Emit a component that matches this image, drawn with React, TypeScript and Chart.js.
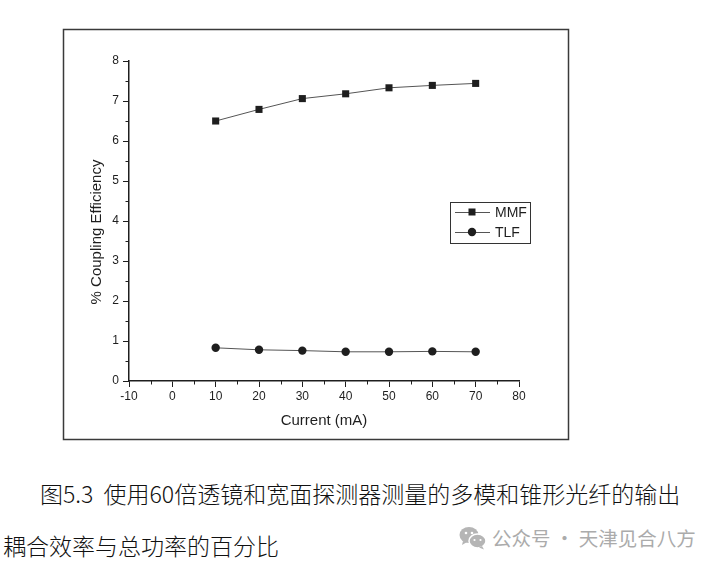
import React, { useEffect, useRef } from "react";
import { Chart, registerables } from "chart.js";

Chart.register(...registerables);

// ---- data ----
const currents = [10, 20, 30, 40, 50, 60, 70];
const mmfValues = [6.5, 6.79, 7.06, 7.18, 7.33, 7.39, 7.44];
const tlfValues = [0.83, 0.78, 0.76, 0.73, 0.73, 0.74, 0.73];
const seriesNames = ["MMF", "TLF"];
const xTitle = "Current (mA)";
const yTitle = "% Coupling Efficiency";
const captionLine1 = "图5.3  使用60倍透镜和宽面探测器测量的多模和锥形光纤的输出";
const captionLine2 = "耦合效率与总功率的百分比";
const watermark = "公众号 · 天津见合八方";

const FONT = '"Liberation Sans", Arial, Helvetica, sans-serif';
const INK = "#1e1e1e";

const decor = {
  id: "decor",
  afterDraw(chart: any) {
    const ctx = chart.ctx as CanvasRenderingContext2D;
    const xs = chart.scales.x;
    const ys = chart.scales.y;
    ctx.save();
    // outer frame of the figure
    ctx.strokeStyle = "#3a3a3a";
    ctx.lineWidth = 1.5;
    ctx.strokeRect(63.5, 29.5, 505, 410);

    // minor ticks
    ctx.strokeStyle = INK;
    ctx.lineWidth = 1;
    ctx.beginPath();
    for (let v = xs.min + 5; v < xs.max; v += 10) {
      const px = Math.round(xs.getPixelForValue(v)) + 0.5;
      ctx.moveTo(px, ys.bottom);
      ctx.lineTo(px, ys.bottom + 3.5);
    }
    for (let v = ys.min + 0.5; v < ys.max; v += 1) {
      const py = Math.round(ys.getPixelForValue(v)) + 0.5;
      ctx.moveTo(xs.left, py);
      ctx.lineTo(xs.left - 3.5, py);
    }
    ctx.stroke();

    // y axis title
    ctx.save();
    ctx.translate(97, 232);
    ctx.rotate(-Math.PI / 2);
    ctx.font = `15px ${FONT}`;
    ctx.fillStyle = INK;
    ctx.textAlign = "center";
    ctx.textBaseline = "middle";
    ctx.fillText(yTitle, 0, 0);
    ctx.restore();

    // legend
    const lx = 450.5, ly = 202.5, lw = 80, lh = 41;
    ctx.strokeStyle = "#333";
    ctx.lineWidth = 1;
    ctx.strokeRect(lx, ly, lw, lh);
    chart.data.datasets.forEach((ds: any, i: number) => {
      const cy = 212 + i * 20;
      ctx.strokeStyle = "#555";
      ctx.lineWidth = 1;
      ctx.beginPath();
      ctx.moveTo(455, cy + 0.5);
      ctx.lineTo(490, cy + 0.5);
      ctx.stroke();
      ctx.fillStyle = INK;
      if (ds.pointStyle === "rect") {
        ctx.fillRect(472 - 3.5, cy - 3.5, 7, 7);
      } else {
        ctx.beginPath();
        ctx.arc(472, cy, 4.2, 0, Math.PI * 2);
        ctx.fill();
      }
      ctx.font = `14px ${FONT}`;
      ctx.textAlign = "left";
      ctx.textBaseline = "middle";
      ctx.fillText(ds.label, 495, cy + 1);
    });
    ctx.restore();
  },
};

function ChartCanvas() {
  const ref = useRef<HTMLCanvasElement | null>(null);
  useEffect(() => {
    if (!ref.current) return;
    const chart = new Chart(ref.current, {
      type: "line",
      data: {
        datasets: [
          {
            label: seriesNames[0],
            data: currents.map((c, i) => ({ x: c, y: mmfValues[i] })),
            borderColor: "#555",
            borderWidth: 1,
            pointStyle: "rect",
            pointRadius: 5,
            pointBackgroundColor: INK,
            pointBorderColor: INK,
            pointBorderWidth: 0,
            tension: 0,
          },
          {
            label: seriesNames[1],
            data: currents.map((c, i) => ({ x: c, y: tlfValues[i] })),
            borderColor: "#555",
            borderWidth: 1,
            pointStyle: "circle",
            pointRadius: 4.2,
            pointBackgroundColor: INK,
            pointBorderColor: INK,
            pointBorderWidth: 0,
            tension: 0,
          },
        ],
      },
      options: {
        responsive: false,
        animation: false,
        devicePixelRatio: 1,
        layout: { padding: { left: 85, top: 61, right: 201, bottom: 0 } },
        plugins: {
          legend: { display: false },
          tooltip: { enabled: false },
        },
        scales: {
          x: {
            type: "linear",
            min: -10,
            max: 80,
            afterFit: (s: any) => {
              s.height = 79;
            },
            ticks: {
              stepSize: 10,
              color: INK,
              font: { family: FONT, size: 12 },
              padding: 2,
            },
            grid: {
              drawOnChartArea: false,
              drawTicks: true,
              tickLength: 6,
              color: INK,
              lineWidth: 1,
            },
            border: { display: true, color: INK, width: 1.5 },
            title: {
              display: true,
              text: xTitle,
              color: INK,
              font: { family: FONT, size: 15 },
              padding: { top: 0, bottom: 30 },
            },
          },
          y: {
            type: "linear",
            min: 0,
            max: 8,
            afterFit: (s: any) => {
              s.width = 44;
            },
            ticks: {
              stepSize: 1,
              color: INK,
              font: { family: FONT, size: 12 },
              padding: 4,
            },
            grid: {
              drawOnChartArea: false,
              drawTicks: true,
              tickLength: 6,
              color: INK,
              lineWidth: 1,
            },
            border: { display: true, color: INK, width: 1.5 },
          },
        },
      },
      plugins: [decor],
    });
    return () => chart.destroy();
  }, []);
  return (
    <canvas
      ref={ref}
      width={720}
      height={460}
      style={{ position: "absolute", left: 0, top: 0, width: 720, height: 460 }}
    />
  );
}

export default function App() {
  const cjk = '"Noto Sans CJK SC", "Noto Sans", sans-serif';
  return (
    <div
      style={{
        position: "absolute",
        left: 0,
        top: 0,
        width: 720,
        height: 566,
        background: "#ffffff",
        overflow: "hidden",
      }}
    >
      <ChartCanvas />
      <div
        style={{
          position: "absolute",
          left: 40,
          top: 480,
          fontFamily: cjk,
          fontSize: 23,
          fontWeight: 300,
          lineHeight: "26px",
          color: "#111",
          whiteSpace: "pre",
        }}
      >
        {captionLine1}
      </div>
      <div
        style={{
          position: "absolute",
          left: 3,
          top: 532,
          fontFamily: cjk,
          fontSize: 23,
          fontWeight: 300,
          lineHeight: "26px",
          color: "#111",
          whiteSpace: "pre",
        }}
      >
        {captionLine2}
      </div>
      <svg
        width={28}
        height={24}
        viewBox="0 0 28 24"
        style={{ position: "absolute", left: 459, top: 526 }}
      >
        <ellipse cx={10} cy={9} rx={9.5} ry={8} fill="#b5b5b5" />
        <path d="M4 15 L3 19 L8 16 Z" fill="#b5b5b5" />
        <ellipse cx={18.5} cy={15} rx={8.5} ry={7} fill="#b5b5b5" stroke="#fff" strokeWidth={1.5} />
        <path d="M23 20 L25 23.5 L20 21.5 Z" fill="#b5b5b5" />
        <circle cx={7} cy={7} r={1.3} fill="#fff" />
        <circle cx={13} cy={7} r={1.3} fill="#fff" />
        <circle cx={15.5} cy={14} r={1.1} fill="#fff" />
        <circle cx={21.5} cy={14} r={1.1} fill="#fff" />
      </svg>
      <div
        style={{
          position: "absolute",
          left: 492,
          top: 527,
          fontFamily: cjk,
          fontSize: 19.5,
          lineHeight: "22px",
          color: "#ababab",
          whiteSpace: "pre",
        }}
      >
        {watermark}
      </div>
    </div>
  );
}
